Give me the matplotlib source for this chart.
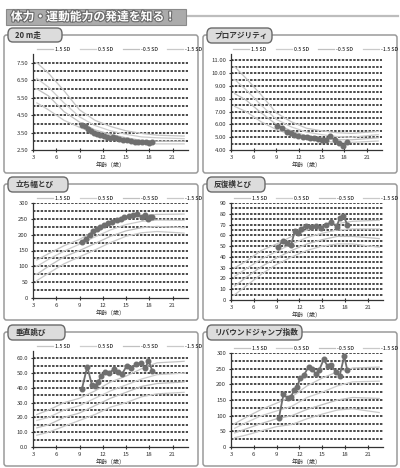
import numpy as np
import matplotlib.pyplot as plt
from matplotlib.patches import FancyBboxPatch, Rectangle
from matplotlib.lines import Line2D
import matplotlib.patheffects as pe

plt.rcParams['font.family'] = ['Noto Sans CJK JP', 'DejaVu Sans']

W, H = 400, 468

title = '体力・運動能力の発達を知る！'
sd_labels = ['1.5 SD', '0.5 SD', '-0.5 SD', '-1.5 SD']
age_ticks = [3, 6, 9, 12, 15, 18, 21]
sd_age = [3.5, 5, 7, 9, 11, 13, 15, 17, 19, 22.5]

# 20 m走
run_sd = [
    [7.5, 6.9, 5.9, 4.8, 4.2, 3.85, 3.6, 3.45, 3.35, 3.3],
    [6.6, 6.1, 5.2, 4.4, 3.9, 3.6, 3.4, 3.25, 3.2, 3.15],
    [6.0, 5.6, 4.7, 4.1, 3.65, 3.4, 3.2, 3.05, 3.0, 3.0],
    [5.2, 4.8, 4.2, 3.8, 3.45, 3.2, 3.0, 2.9, 2.85, 2.85],
]
run_age = [9.3, 9.7, 10.1, 10.5, 10.9, 11.3, 11.7, 12.1, 12.5, 12.9, 13.3, 13.7,
           14.1, 14.6, 15.1, 15.6, 16.1, 16.6, 17.1, 17.6, 18.0, 18.4]
run_val = [3.94, 3.88, 3.70, 3.58, 3.50, 3.42, 3.36, 3.32, 3.24, 3.20, 3.22, 3.16,
           3.14, 3.08, 3.05, 3.00, 2.98, 2.97, 2.94, 2.96, 2.88, 2.95]

# プロアジリティ
pro_sd = [
    [10.5, 9.6, 8.3, 6.9, 6.2, 5.7, 5.5, 5.35, 5.3, 5.45],
    [9.5, 8.7, 7.5, 6.4, 5.8, 5.4, 5.2, 5.05, 5.0, 5.2],
    [8.4, 7.9, 6.9, 6.0, 5.5, 5.1, 4.9, 4.8, 4.8, 4.95],
    [7.4, 7.0, 6.2, 5.6, 5.2, 4.85, 4.7, 4.6, 4.6, 4.7],
]
pro_age = [9.1, 9.8, 10.4, 10.9, 11.4, 11.9, 12.5, 13.0, 13.5, 14.0, 14.5, 15.0,
           15.6, 16.1, 16.8, 17.3, 17.8, 18.3]
pro_val = [5.89, 5.70, 5.40, 5.30, 5.20, 5.10, 5.05, 5.00, 4.95, 4.90, 4.86, 4.82,
           4.80, 5.08, 4.80, 4.55, 4.35, 4.60]

# 立ち幅とび
jump_sd = [
    [120, 140, 165, 185, 212, 235, 250, 260, 264, 265],
    [100, 122, 148, 170, 193, 215, 232, 242, 246, 245],
    [75, 100, 130, 150, 172, 195, 212, 222, 226, 222],
    [55, 78, 108, 130, 152, 175, 195, 206, 210, 205],
]
jump_age = [9.3, 9.8, 10.3, 10.8, 11.2, 11.6, 12.1, 12.7, 13.2, 13.8, 14.3, 14.8,
            15.4, 15.9, 16.4, 17.0, 17.4, 17.8, 18.1, 18.4]
jump_val = [178, 185, 199, 212, 218, 225, 230, 236, 241, 246, 250, 255,
            258, 262, 264, 257, 262, 251, 257, 255]

# 反復横とび
side_sd = [
    [30, 36, 46, 52, 59, 65, 68, 71, 73, 74],
    [22, 29, 38, 45, 52, 58, 62, 65, 66, 66],
    [13, 21, 31, 39, 46, 52, 56, 59, 59, 57],
    [5, 13, 24, 33, 40, 46, 50, 52, 52, 49],
]
side_age = [9.2, 9.8, 10.4, 10.9, 11.4, 11.8, 12.2, 12.9, 13.5, 14.2, 14.8, 15.5,
            16.2, 16.9, 17.3, 17.8, 18.3]
side_val = [49, 55, 53, 51, 64, 62, 66, 69, 68, 69, 67, 70,
            72, 68, 76, 78, 70]

# 垂直跳び
vert_sd = [
    [22, 25, 30, 33, 38, 44, 48, 53, 57, 58],
    [18, 20, 25, 28, 33, 38, 42, 46, 49, 50],
    [13, 15, 20, 23, 28, 33, 37, 41, 43, 44],
    [8, 10, 14, 18, 22, 27, 30, 34, 36, 37],
]
vert_age = [9.3, 10.0, 10.6, 11.0, 11.4, 11.8, 12.3, 12.8, 13.4, 14.0, 14.5, 15.1,
            15.7, 16.3, 16.9, 17.5, 17.9, 18.4]
vert_val = [39, 54.5, 42, 41, 44, 48, 50.5, 50, 52.5, 51, 49.5, 55,
            53.5, 56, 57, 53.5, 58.5, 51.5]

# リバウンドジャンプ指数
rj_sd = [
    [75, 95, 120, 140, 160, 195, 220, 240, 252, 255],
    [60, 78, 100, 115, 130, 158, 175, 195, 208, 210],
    [45, 58, 75, 90, 100, 120, 135, 150, 158, 155],
    [30, 38, 52, 65, 72, 90, 105, 118, 122, 110],
]
rj_age = [9.3, 9.9, 10.5, 10.9, 11.3, 11.7, 12.1, 12.6, 13.2, 13.7, 14.2, 14.6,
          15.2, 15.7, 16.2, 16.8, 17.3, 17.9, 18.3]
rj_val = [92, 168, 155, 160, 182, 192, 219, 230, 255, 248, 232, 245,
          280, 258, 262, 238, 228, 290, 245]

panels = [
    dict(name='20 m走', sd=run_sd, age=run_age, val=run_val,
         ylim=(2.5, 8.0), yt=(2.5, 7.5, 1.0), gstep=0.5, fmt='{:.2f}',
         frame=(4, 35, 198, 173), tab=(8, 28, 62, 42), ax=(33, 188, 54, 150)),
    dict(name='プロアジリティ', sd=pro_sd, age=pro_age, val=pro_val,
         ylim=(4.0, 11.5), yt=(4.0, 11.0, 1.0), gstep=0.5, fmt='{:.2f}',
         frame=(203, 35, 397, 173), tab=(207, 28, 272, 43), ax=(231, 382, 54, 150)),
    dict(name='立ち幅とび', sd=jump_sd, age=jump_age, val=jump_val,
         ylim=(0, 300), yt=(0, 300, 50), gstep=25, fmt='{:.0f}',
         frame=(4, 184, 198, 320), tab=(8, 177, 68, 192), ax=(33, 188, 203, 298)),
    dict(name='反復横とび', sd=side_sd, age=side_age, val=side_val,
         ylim=(0, 90), yt=(0, 90, 10), gstep=5, fmt='{:.0f}',
         frame=(203, 184, 397, 320), tab=(207, 177, 265, 192), ax=(231, 383, 203, 300)),
    dict(name='垂直跳び', sd=vert_sd, age=vert_age, val=vert_val,
         ylim=(0, 65), yt=(0, 60, 10), gstep=5, fmt='{:.1f}',
         frame=(4, 332, 198, 466), tab=(8, 325, 65, 340), ax=(33, 188, 351, 447)),
    dict(name='リバウンドジャンプ指数', sd=rj_sd, age=rj_age, val=rj_val,
         ylim=(0, 300), yt=(0, 300, 50), gstep=25, fmt='{:.0f}',
         frame=(203, 332, 397, 466), tab=(207, 325, 302, 340), ax=(231, 383, 353, 447)),
]

sd_colors = ['#c4c4c4', '#cdcdcd', '#c0c0c0', '#c9c9c9']
data_color = '#6f6f6f'

fig = plt.figure(figsize=(4.0, 4.68), dpi=100)


def box(x0, y0, x1, y1):
    return (x0 / W, 1 - y1 / H, (x1 - x0) / W, (y1 - y0) / H)


# title banner
fig.add_artist(Line2D([185 / W, 398 / W], [1 - 16 / H, 1 - 16 / H], color='#bdbdbd',
                      lw=1.6, transform=fig.transFigure, zorder=-2))
bx, by, bw, bh = box(6, 9, 186, 25)
fig.add_artist(Rectangle((bx, by), bw, bh, transform=fig.transFigure,
                         facecolor='#ababab', edgecolor='#8a8a8a', lw=0.8, zorder=-1))
fig.text(bx + 0.012, by + bh / 2, title, ha='left', va='center', fontsize=8.5,
         fontweight='bold', color='white',
         path_effects=[pe.withStroke(linewidth=1.6, foreground='#6a6a6a')])

for p in panels:
    fx, fy, fw, fh = box(*p['frame'])
    fig.add_artist(FancyBboxPatch((fx, fy), fw, fh, transform=fig.transFigure,
                                  boxstyle='round,pad=0,rounding_size=0.006',
                                  facecolor='white', edgecolor='#9a9a9a', lw=1.1,
                                  zorder=-5))
    tx, ty, tw, th = box(*p['tab'])
    fig.add_artist(FancyBboxPatch((tx, ty), tw, th, transform=fig.transFigure,
                                  boxstyle='round,pad=0,rounding_size=0.012',
                                  facecolor='#dcdcdc', edgecolor='#6a6a6a', lw=1.0, zorder=3))
    fig.text(tx + 0.018, ty + th / 2, p['name'], ha='left', va='center',
             fontsize=5.5, fontweight='bold', color='#333333', zorder=4)

    x0, x1, yt, yb = p['ax']
    ax = fig.add_axes([x0 / W, 1 - yb / H, (x1 - x0) / W, (yb - yt) / H])
    ax.patch.set_visible(False)
    ax.set_xlim(3, 23)
    ax.set_ylim(*p['ylim'])

    lo, hi, st = p['yt']
    g = lo + p['gstep']
    while g <= hi + 1e-9:
        ax.axhline(g, color='#1a1a1a', lw=1.1, ls=(0, (1.6, 0.9)), zorder=1)
        g += p['gstep']

    for i in range(4):
        ax.plot(sd_age, p['sd'][i], color=sd_colors[i], lw=0.9, zorder=2,
                label=sd_labels[i])
    ax.plot(p['age'], p['val'], color=data_color, lw=1.3, marker='o',
            markersize=3.3, markerfacecolor=data_color, markeredgecolor=data_color,
            zorder=3)

    yticks = np.arange(lo, hi + st / 2, st)
    ax.set_yticks(yticks)
    ax.set_yticklabels([p['fmt'].format(v) for v in yticks])
    ax.set_xticks(age_ticks)
    ax.tick_params(axis='both', labelsize=4.3, length=3, width=0.8,
                   direction='inout', pad=2, colors='#333333')
    for s in ['top', 'right']:
        ax.spines[s].set_visible(False)
    for s in ['left', 'bottom']:
        ax.spines[s].set_color('#333333')
        ax.spines[s].set_linewidth(0.9)
    ax.set_xlabel('年齢（歳）', fontsize=4.3, labelpad=1.5, color='#333333')
    ax.legend(loc='lower center', bbox_to_anchor=(0.56, 0.99), ncol=4,
              frameon=False, fontsize=3.8, handlelength=3.0, handletextpad=0.4,
              columnspacing=1.8, borderpad=0)

fig.savefig('out.png', dpi=100)
